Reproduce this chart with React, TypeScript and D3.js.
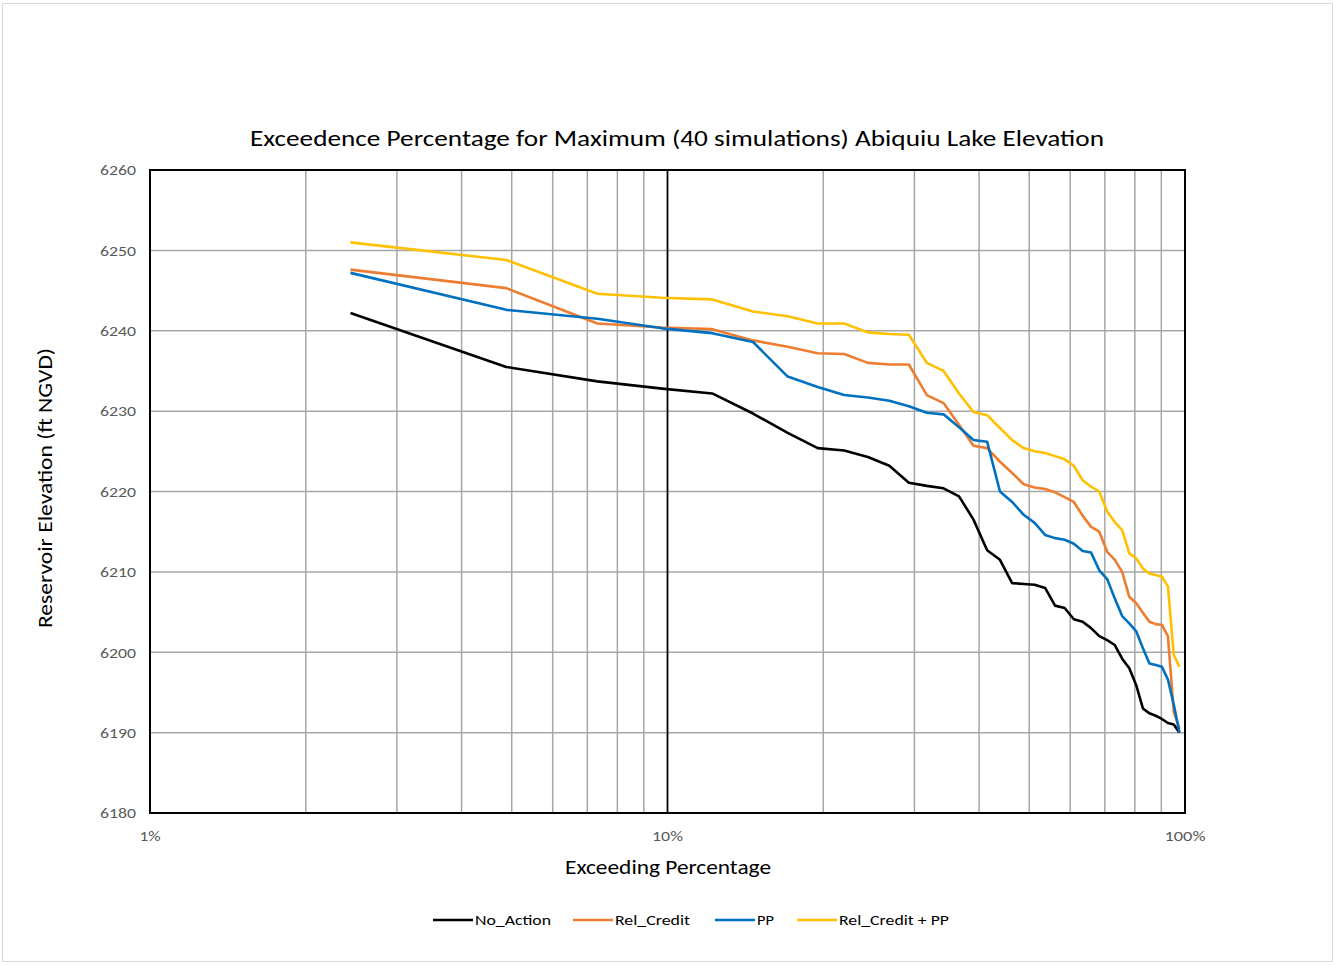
import React from "react";
import * as d3 from "d3";

const exceedance = [2.44, 4.88, 7.32, 9.76, 12.2, 14.63, 17.07, 19.51, 21.95, 24.39, 26.83, 29.27, 31.71, 34.15, 36.59, 39.02, 41.46, 43.9, 46.34, 48.78, 51.22, 53.66, 56.1, 58.54, 60.98, 63.41, 65.85, 68.29, 70.73, 73.17, 75.61, 78.05, 80.49, 82.93, 85.37, 87.8, 90.24, 92.68, 95.12, 97.56];

const noAction = [6242.2, 6235.5, 6233.7, 6232.8, 6232.2, 6229.7, 6227.3, 6225.4, 6225.1, 6224.3, 6223.2, 6221.1, 6220.7, 6220.4, 6219.4, 6216.5, 6212.7, 6211.5, 6208.6, 6208.5, 6208.4, 6208.0, 6205.8, 6205.5, 6204.1, 6203.8, 6203.0, 6202.0, 6201.5, 6200.9, 6199.2, 6198.0, 6195.9, 6193.0, 6192.4, 6192.1, 6191.7, 6191.2, 6191.0, 6190.0];

const relCredit = [6247.6, 6245.3, 6240.9, 6240.4, 6240.2, 6238.8, 6238.0, 6237.2, 6237.1, 6236.0, 6235.8, 6235.8, 6232.0, 6231.0, 6228.3, 6225.7, 6225.4, 6223.7, 6222.3, 6220.9, 6220.5, 6220.3, 6219.9, 6219.3, 6218.7, 6217.0, 6215.6, 6215.0, 6212.5, 6211.5, 6210.0, 6206.9, 6206.1, 6204.9, 6203.8, 6203.5, 6203.4, 6202.0, 6192.6, 6190.5];

const pp = [6247.2, 6242.6, 6241.5, 6240.3, 6239.7, 6238.6, 6234.3, 6233.0, 6232.0, 6231.7, 6231.3, 6230.6, 6229.8, 6229.6, 6228.0, 6226.4, 6226.2, 6220.0, 6218.7, 6217.1, 6216.1, 6214.6, 6214.2, 6214.0, 6213.5, 6212.6, 6212.4, 6210.2, 6209.1, 6206.7, 6204.5, 6203.6, 6202.6, 6200.5, 6198.6, 6198.4, 6198.2, 6196.6, 6193.5, 6190.0];

const relCreditPP = [6251.0, 6248.8, 6244.6, 6244.1, 6243.9, 6242.4, 6241.8, 6240.9, 6240.9, 6239.8, 6239.6, 6239.5, 6236.0, 6235.0, 6232.2, 6229.9, 6229.5, 6227.9, 6226.4, 6225.4, 6225.0, 6224.8, 6224.4, 6224.0, 6223.2, 6221.4, 6220.6, 6220.0, 6217.5, 6216.2, 6215.2, 6212.3, 6211.7, 6210.4, 6209.8, 6209.6, 6209.4, 6208.2, 6199.7, 6198.2];

const seriesNames = ["No_Action", "Rel_Credit", "PP", "Rel_Credit + PP"];
const seriesColors = ["#000000", "#ED7D31", "#0070C0", "#FFC000"];
const yTicks = [6180, 6190, 6200, 6210, 6220, 6230, 6240, 6250, 6260];
const xMajorTicks = [1, 10, 100];
const xTickLabels = ["1%", "10%", "100%"];
const xMinorTicks = [2, 3, 4, 5, 6, 7, 8, 9, 20, 30, 40, 50, 60, 70, 80, 90];

const FONT = "'Liberation Sans Narrow', Carlito, 'Open Sans', sans-serif";

export default function App() {
  const W = 1335, H = 966;
  const left = 150, right = 1185, top = 170, bottom = 813;
  const x = d3.scaleLog().domain([1, 100]).range([left, right]);
  const y = d3.scaleLinear().domain([6180, 6260]).range([bottom, top]);
  const series = [noAction, relCredit, pp, relCreditPP];
  const line = d3.line<number>().x((_, i) => x(exceedance[i])).y((d) => y(d));

  const legendItems = [
    { lx: 433, tx: 475, tw: 76 },
    { lx: 573, tx: 615, tw: 75 },
    { lx: 715, tx: 757, tw: 17 },
    { lx: 797, tx: 839, tw: 110 },
  ];
  const xLabelWidths = [21, 31, 41];

  return (
    <svg width={W} height={H} style={{ position: "absolute", left: 0, top: 0, background: "#fff" }}>
      <rect x={0} y={0} width={W} height={H} fill="#fff" />
      <rect x={2.5} y={3.5} width={1330} height={958} fill="none" stroke="#d9d9d9" strokeWidth={1} />
      {yTicks.slice(1, -1).map((t) => (
        <line key={"h" + t} x1={left} x2={right} y1={y(t)} y2={y(t)} stroke="#a6a6a6" strokeWidth={1.5} />
      ))}
      {xMinorTicks.map((t) => (
        <line key={"v" + t} x1={x(t)} x2={x(t)} y1={top} y2={bottom} stroke="#a6a6a6" strokeWidth={1.5} />
      ))}
      <line x1={x(10)} x2={x(10)} y1={top} y2={bottom} stroke="#000" strokeWidth={1.8} />
      <rect x={left} y={top} width={right - left} height={bottom - top} fill="none" stroke="#000" strokeWidth={2} />
      {series.map((s, k) => (
        <path key={k} d={line(s) || ""} fill="none" stroke={seriesColors[k]} strokeWidth={2.6} strokeLinejoin="round" />
      ))}
      {yTicks.map((t) => (
        <text key={"yl" + t} x={136} y={y(t)} dy="0.35em" textAnchor="end" fontSize={15} fill="#595959" fontFamily={FONT} textLength={36} lengthAdjust="spacingAndGlyphs">
          {t}
        </text>
      ))}
      {xMajorTicks.map((t, i) => (
        <text key={"xl" + t} x={x(t)} y={836} dy="0.35em" textAnchor="middle" fontSize={15} fill="#595959" fontFamily={FONT} textLength={xLabelWidths[i]} lengthAdjust="spacingAndGlyphs">
          {xTickLabels[i]}
        </text>
      ))}
      <text x={677} y={146} textAnchor="middle" fontSize={23} fill="#000" fontFamily={FONT} textLength={854} lengthAdjust="spacingAndGlyphs">
        Exceedence  Percentage for Maximum (40 simulations) Abiquiu Lake Elevation
      </text>
      <text x={668} y={874} textAnchor="middle" fontSize={20} fill="#000" fontFamily={FONT} textLength={206} lengthAdjust="spacingAndGlyphs">
        Exceeding Percentage
      </text>
      <text transform="translate(52,488) rotate(-90)" textAnchor="middle" fontSize={20} fill="#000" fontFamily={FONT} textLength={280} lengthAdjust="spacingAndGlyphs">
        Reservoir Elevation (ft NGVD)
      </text>
      {legendItems.map((it, k) => (
        <g key={"lg" + k}>
          <line x1={it.lx} x2={it.lx + 40} y1={920} y2={920} stroke={seriesColors[k]} strokeWidth={2.6} />
          <text x={it.tx} y={920} dy="0.35em" fontSize={15} fill="#000" fontFamily={FONT} textLength={it.tw} lengthAdjust="spacingAndGlyphs">
            {seriesNames[k]}
          </text>
        </g>
      ))}
    </svg>
  );
}
